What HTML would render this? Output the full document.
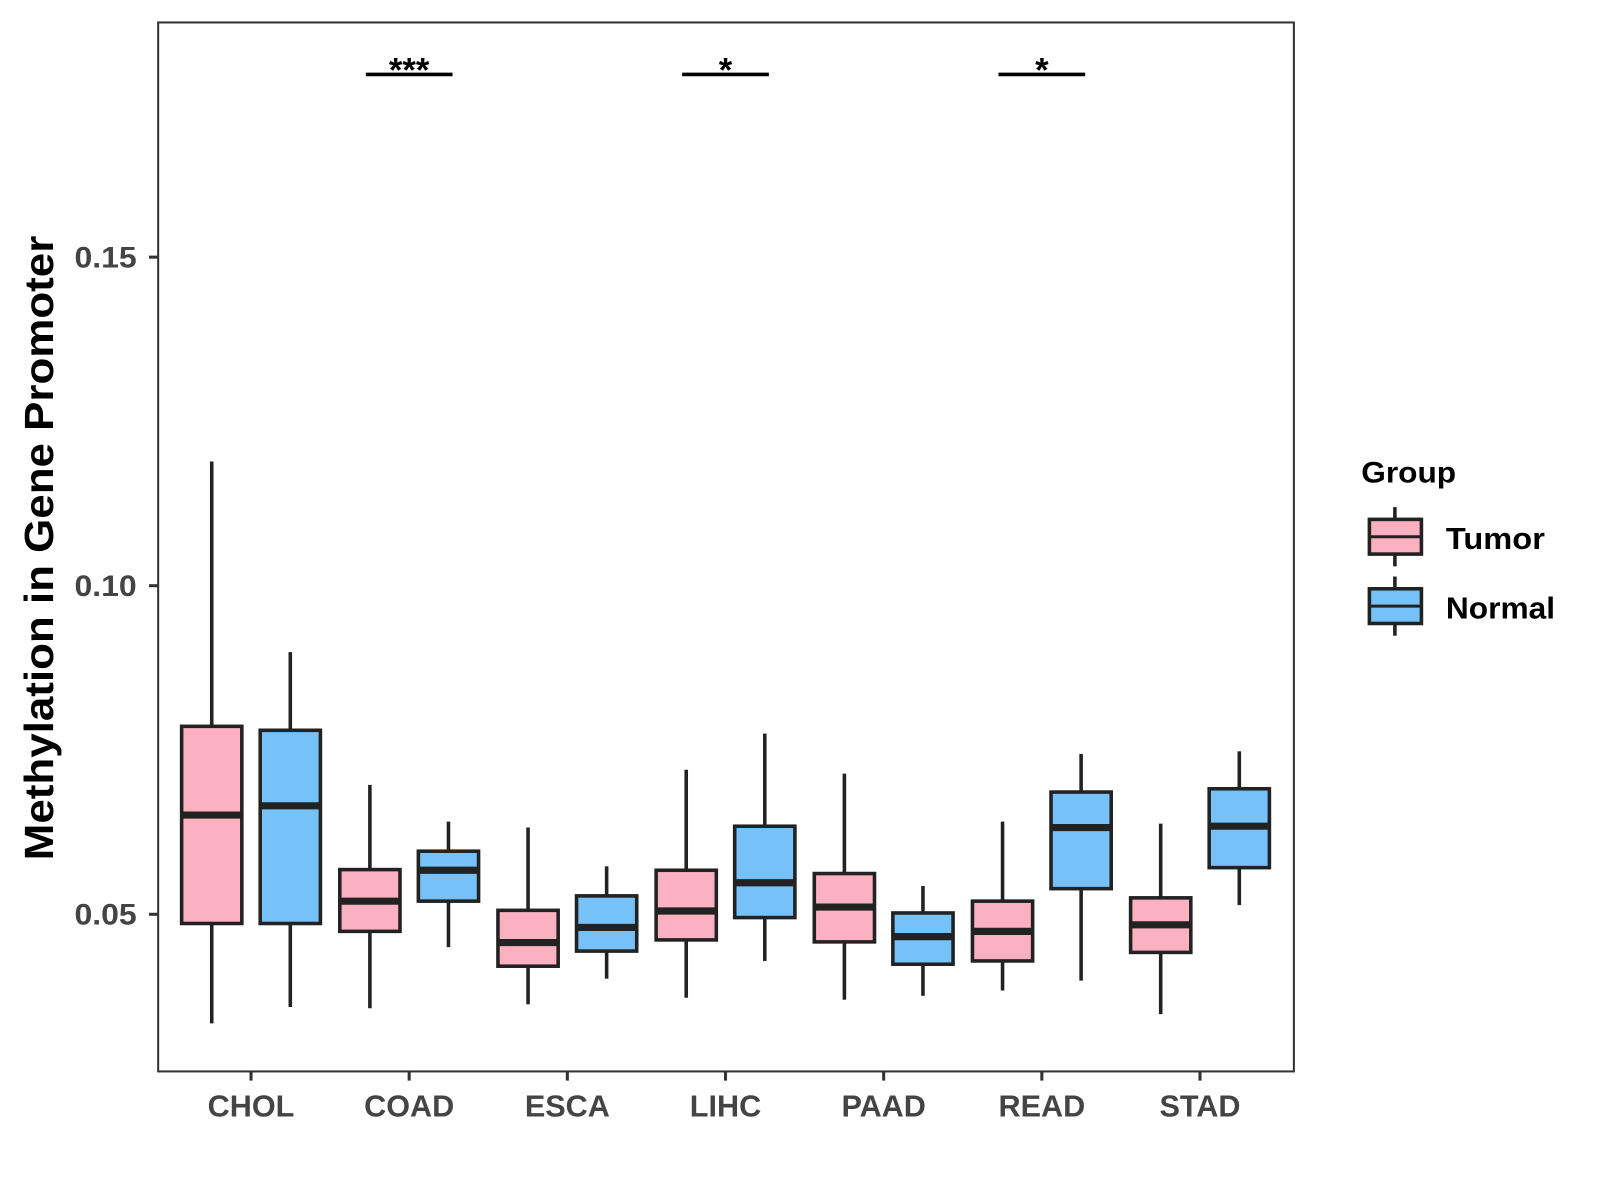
<!DOCTYPE html>
<html><head><meta charset="utf-8"><style>html,body{margin:0;padding:0;background:#fff}svg{display:block}</style></head>
<body>
<svg id="chart" xmlns="http://www.w3.org/2000/svg" width="1600" height="1200" viewBox="0 0 1568 1176" font-family="Liberation Sans, Arial, sans-serif" font-weight="bold">
<rect x="0" y="0" width="1568" height="1176" fill="#fff"/>
<g id="marks"></g>
<rect x="155" y="22" width="1113" height="1028" fill="none" stroke="#333" stroke-width="2"/>
<g id="axes"></g>
<text transform="translate(52,537) rotate(-90)" text-anchor="middle" font-size="40" fill="#000" textLength="612" lengthAdjust="spacingAndGlyphs">Methylation in Gene Promoter</text>
<g>
<text x="1334" y="473" font-size="29" fill="#000" textLength="93" lengthAdjust="spacingAndGlyphs">Group</text>
<g>
<line x1="1367" y1="497" x2="1367" y2="555" stroke="#222" stroke-width="3.5"/>
<rect x="1342" y="509" width="51" height="34" fill="#FBB1C1" stroke="#222" stroke-width="3.5"/>
<line x1="1342" y1="526" x2="1393" y2="526" stroke="#222" stroke-width="3"/>
<text x="1417" y="538" font-size="30" fill="#000" textLength="97" lengthAdjust="spacingAndGlyphs">Tumor</text></g>
<g>
<line x1="1367" y1="565" x2="1367" y2="623" stroke="#222" stroke-width="3.5"/>
<rect x="1342" y="577" width="51" height="34" fill="#75C1F8" stroke="#222" stroke-width="3.5"/>
<line x1="1342" y1="594" x2="1393" y2="594" stroke="#222" stroke-width="3"/>
<text x="1417" y="606" font-size="30" fill="#000" textLength="107" lengthAdjust="spacingAndGlyphs">Normal</text></g>
</g>
</svg>
<script>
const categories = ["CHOL","COAD","ESCA","LIHC","PAAD","READ","STAD"];
// [whiskerLow, Q1, median, Q3, whiskerHigh]
const tumorValues = [
 [0.0334,0.0486,0.0651,0.0786,0.1189],
 [0.0357,0.0474,0.0520,0.0568,0.0697],
 [0.0363,0.0421,0.0457,0.0506,0.0632],
 [0.0373,0.0461,0.0505,0.0567,0.0720],
 [0.0370,0.0458,0.0511,0.0562,0.0714],
 [0.0384,0.0429,0.0474,0.0520,0.0641],
 [0.0348,0.0442,0.0484,0.0525,0.0638]];
const normalValues = [
 [0.0359,0.0486,0.0665,0.0780,0.0899],
 [0.0450,0.0520,0.0567,0.0596,0.0641],
 [0.0402,0.0444,0.0480,0.0528,0.0573],
 [0.0429,0.0495,0.0548,0.0634,0.0775],
 [0.0376,0.0424,0.0466,0.0502,0.0543],
 [0.0399,0.0539,0.0632,0.0686,0.0744],
 [0.0514,0.0571,0.0634,0.0691,0.0748]];
const yTicks = [0.05,0.10,0.15];
const yTickLabels = ["0.05","0.10","0.15"];
const sigCategories = ["COAD","LIHC","READ"];
const sigLabels = ["***","*","*"];
const sigLevel = 0.1778;

const NS="http://www.w3.org/2000/svg";
const yScale = v => 574 - (v-0.10)/0.05*322;
const xScale = i => 246 + i*155;
const marks=document.getElementById('marks'), axes=document.getElementById('axes');
function mk(tag,attrs,parent){const e=document.createElementNS(NS,tag);for(const k in attrs)e.setAttribute(k,attrs[k]);parent.appendChild(e);return e;}
function drawBox(vals,cx,fill,name){
  const g=mk('g',{},marks);
  
  
  const hw=29.5,s='#222';
  mk('line',{x1:cx,x2:cx,y1:yScale(vals[0]),y2:yScale(vals[1]),stroke:s,'stroke-width':3.5},g);
  mk('line',{x1:cx,x2:cx,y1:yScale(vals[3]),y2:yScale(vals[4]),stroke:s,'stroke-width':3.5},g);
  mk('rect',{x:cx-hw,y:yScale(vals[3]),width:2*hw,height:yScale(vals[1])-yScale(vals[3]),fill:fill,stroke:s,'stroke-width':3.5},g);
  mk('line',{x1:cx-hw,x2:cx+hw,y1:yScale(vals[2]),y2:yScale(vals[2]),stroke:s,'stroke-width':7},g);
}
categories.forEach((c,i)=>{
  drawBox(tumorValues[i],xScale(i)-38.5,'#FBB1C1','box-tumor-'+c.toLowerCase());
  drawBox(normalValues[i],xScale(i)+38.5,'#75C1F8','box-normal-'+c.toLowerCase());
  const t=mk('line',{x1:xScale(i),x2:xScale(i),y1:1050,y2:1059,stroke:'#333','stroke-width':3},axes);
  
  
  const l=mk('text',{x:xScale(i),y:1094,'text-anchor':'middle','font-size':30,fill:'#444'},axes);
  l.textContent=c;
  
  
});
yTicks.forEach((v,i)=>{
  const t=mk('line',{x1:146,x2:155,y1:yScale(v),y2:yScale(v),stroke:'#333','stroke-width':3},axes);
  
  
  const l=mk('text',{x:134,y:yScale(v)+10,'text-anchor':'end','font-size':29,fill:'#444',textLength:61,lengthAdjust:'spacingAndGlyphs'},axes);
  l.textContent=yTickLabels[i];
  
  
});
sigCategories.forEach((c,j)=>{
  const i=categories.indexOf(c);
  const ln=mk('line',{x1:xScale(i)-42.5,x2:xScale(i)+42.5,y1:yScale(sigLevel),y2:yScale(sigLevel),stroke:'#000','stroke-width':3.5},marks);
  
  
  const t=mk('text',{x:xScale(i),y:yScale(sigLevel)+7,'text-anchor':'middle','font-size':34,fill:'#000'},marks);
  t.textContent=sigLabels[j];
  
  
});
</script>
</body></html>
